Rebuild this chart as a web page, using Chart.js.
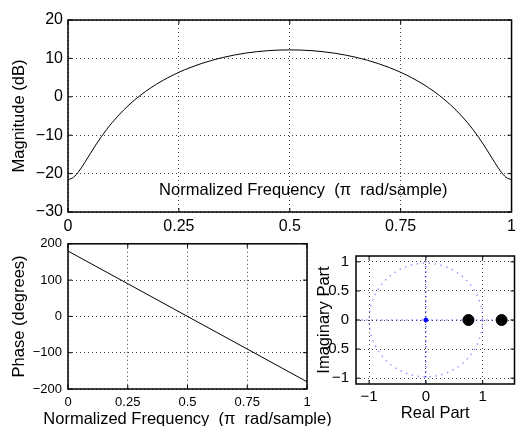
<!DOCTYPE html>
<html lang="en">
<head>
<meta charset="UTF-8">
<title>Filter response</title>
<script src="https://cdn.jsdelivr.net/npm/chart.js@4.4.0/dist/chart.umd.min.js"></script>
<style>
    body { margin: 0; background: #fff; }
    .fig { position: relative; width: 521px; height: 426px; overflow: hidden; }
    .fig canvas { position: absolute; }
</style>
</head>
<body>
<div class="fig">
    <canvas id="magChart" width="521" height="240" style="left:0;top:0"></canvas>
    <canvas id="phaseChart" width="340" height="196" style="left:0;top:230px"></canvas>
    <canvas id="pzChart" width="221" height="186" style="left:300px;top:240px"></canvas>
</div>
<script>
    // magnitude response
    const freq = [0, 0.0125, 0.025, 0.0375, 0.05, 0.0625, 0.075, 0.0875, 0.1, 0.125, 0.15, 0.175, 0.2, 0.225, 0.25,
        0.275, 0.3, 0.325, 0.35, 0.375, 0.4, 0.425, 0.45, 0.475, 0.5,
        0.525, 0.55, 0.575, 0.6, 0.625, 0.65, 0.675, 0.7, 0.725, 0.75, 0.775, 0.8, 0.825, 0.85, 0.875,
        0.9, 0.9125, 0.925, 0.9375, 0.95, 0.9625, 0.975, 0.9875, 1];
    const magDb = [-21.58, -20.96, -19.34, -17.17, -14.84, -12.56, -10.42, -8.45, -6.65, -3.49, -0.84, 1.40, 3.32, 4.96, 6.38,
        7.59, 8.63, 9.52, 10.26, 10.88, 11.37, 11.74, 12.01, 12.17, 12.22,
        12.17, 12.01, 11.74, 11.37, 10.88, 10.26, 9.52, 8.63, 7.59, 6.38, 4.96, 3.32, 1.40, -0.84, -3.49,
        -6.65, -8.45, -10.42, -12.56, -14.84, -17.17, -19.34, -20.96, -21.58];

    // phase response
    const phaseFreq = [0, 0.25, 0.5, 0.75, 1];
    const phaseDeg = [180, 90, 0, -90, -180];

    // zeros and poles
    const zeroRe = [0.75, 1.333];
    const zeroIm = [0, 0];
    const poleRe = [0];
    const poleIm = [0];

    // tick labels
    const freqTicks = [0, 0.25, 0.5, 0.75, 1];
    const magTicks = [-30, -20, -10, 0, 10, 20];
    const phaseTicks = [-200, -100, 0, 100, 200];
    const reTicks = [-1, 0, 1];
    const imTicks = [-1, -0.5, 0, 0.5, 1];

    const xLabel = 'Normalized Frequency  (\u03c0  rad/sample)';

    Chart.defaults.font.family = '"Liberation Sans", Arial, Helvetica, sans-serif';
    Chart.defaults.color = '#000';
    Chart.defaults.animation = false;

    const labelFont = { size: 16.5 };
    const gridOpts = { color: '#444', lineWidth: 1, drawTicks: false };
    const borderOpts = { display: false, dash: [1, 3] };

    function fmt(v) {
        return String(v).replace('-', '\u2212');
    }

    function fixTicks(values) {
        return function (scale) {
            scale.ticks = values.map(v => ({ value: v }));
        };
    }

    // box round the axes with small inward tick marks
    const boxPlugin = {
        id: 'box',
        afterDraw(chart) {
            const { ctx, chartArea: a, scales } = chart;
            ctx.save();
            ctx.setLineDash([]);
            ctx.strokeStyle = '#000';
            ctx.lineWidth = 1;
            ctx.beginPath();
            scales.x.ticks.forEach(t => {
                const px = scales.x.getPixelForValue(t.value);
                ctx.moveTo(px, a.bottom); ctx.lineTo(px, a.bottom - 4);
                ctx.moveTo(px, a.top); ctx.lineTo(px, a.top + 4);
            });
            scales.y.ticks.forEach(t => {
                const py = scales.y.getPixelForValue(t.value);
                ctx.moveTo(a.left, py); ctx.lineTo(a.left + 4, py);
                ctx.moveTo(a.right, py); ctx.lineTo(a.right - 4, py);
            });
            ctx.stroke();
            ctx.lineWidth = 1.5;
            ctx.strokeRect(a.left, a.top, a.right - a.left, a.bottom - a.top);
            ctx.restore();
        }
    };

    // frequency axis label, placed like the original (not limited to the axes width)
    const freqLabel = {
        id: 'freqLabel',
        afterDraw(chart, args, opts) {
            const { ctx, chartArea: a } = chart;
            ctx.save();
            ctx.font = '16.5px "Liberation Sans", Arial, sans-serif';
            ctx.fillStyle = '#000';
            ctx.textAlign = 'center';
            ctx.textBaseline = 'alphabetic';
            ctx.fillText(xLabel, (a.left + a.right) / 2 + opts.dx, a.bottom + opts.dy);
            ctx.restore();
        }
    };

    // unit circle and blue axis lines for the z-plane
    const zPlane = {
        id: 'zPlane',
        beforeDatasetsDraw(chart) {
            const { ctx, chartArea: a, scales } = chart;
            const cx = scales.x.getPixelForValue(0);
            const cy = scales.y.getPixelForValue(0);
            const r = scales.x.getPixelForValue(1) - cx;
            ctx.save();
            ctx.beginPath();
            ctx.rect(a.left, a.top, a.right - a.left, a.bottom - a.top);
            ctx.clip();
            ctx.lineWidth = 1.5;
            ctx.strokeStyle = 'rgba(90, 90, 255, 0.6)';
            ctx.setLineDash([1.5, 4.5]);
            ctx.beginPath();
            ctx.arc(cx, cy, r, 0, Math.PI * 2);
            ctx.stroke();
            ctx.lineWidth = 1.2;
            ctx.strokeStyle = 'rgba(40, 40, 255, 0.8)';
            ctx.setLineDash([1.5, 3.5]);
            ctx.beginPath();
            ctx.moveTo(a.left, cy); ctx.lineTo(a.right, cy);
            ctx.moveTo(cx, a.top); ctx.lineTo(cx, a.bottom);
            ctx.stroke();
            ctx.restore();
        }
    };

    new Chart(document.getElementById('magChart'), {
        type: 'line',
        data: {
            datasets: [{
                data: freq.map((f, i) => ({ x: f, y: magDb[i] })),
                borderColor: '#000',
                borderWidth: 1,
                pointRadius: 0,
                cubicInterpolationMode: 'monotone'
            }]
        },
        options: {
            responsive: false,
            layout: { padding: { top: 20, right: 4, left: 0, bottom: 0 } },
            plugins: {
                legend: { display: false }, tooltip: { enabled: false },
                freqLabel: { dx: 13.5, dy: -17 }
            },
            scales: {
                x: {
                    type: 'linear', min: 0, max: 1,
                    afterBuildTicks: fixTicks(freqTicks),
                    afterFit: s => { s.height = 28; },
                    ticks: { font: { size: 16 }, padding: 5, maxRotation: 0, callback: fmt },
                    grid: gridOpts, border: borderOpts
                },
                y: {
                    min: -30, max: 20,
                    afterBuildTicks: fixTicks(magTicks),
                    afterFit: s => { s.width = 68; },
                    ticks: { font: { size: 16 }, padding: 5, callback: fmt },
                    grid: gridOpts, border: borderOpts,
                    title: { display: true, text: 'Magnitude (dB)', font: labelFont, padding: { top: 10, bottom: 0 } }
                }
            }
        },
        plugins: [boxPlugin, freqLabel]
    });

    new Chart(document.getElementById('phaseChart'), {
        type: 'line',
        data: {
            datasets: [{
                data: phaseFreq.map((f, i) => ({ x: f, y: phaseDeg[i] })),
                borderColor: '#000',
                borderWidth: 1,
                pointRadius: 0
            }]
        },
        options: {
            responsive: false,
            layout: { padding: { top: 13, right: 33, left: 0, bottom: 0 } },
            plugins: {
                legend: { display: false }, tooltip: { enabled: false },
                freqLabel: { dx: 0, dy: 35 }
            },
            scales: {
                x: {
                    type: 'linear', min: 0, max: 1,
                    afterBuildTicks: fixTicks(freqTicks),
                    afterFit: s => { s.height = 37; },
                    ticks: { font: { size: 13 }, padding: 6, maxRotation: 0, callback: fmt },
                    grid: gridOpts, border: borderOpts
                },
                y: {
                    min: -200, max: 200,
                    afterBuildTicks: fixTicks(phaseTicks),
                    afterFit: s => { s.width = 68; },
                    ticks: { font: { size: 13 }, padding: 6, callback: fmt },
                    grid: gridOpts, border: borderOpts,
                    title: { display: true, text: 'Phase (degrees)', font: labelFont, padding: { top: 10, bottom: 0 } }
                }
            }
        },
        plugins: [boxPlugin, freqLabel]
    });

    new Chart(document.getElementById('pzChart'), {
        type: 'scatter',
        data: {
            datasets: [{
                data: zeroRe.map((re, i) => ({ x: re, y: zeroIm[i] })),
                backgroundColor: '#000',
                borderColor: '#000',
                pointRadius: 5.5
            }, {
                data: poleRe.map((re, i) => ({ x: re, y: poleIm[i] })),
                backgroundColor: '#0000ff',
                borderColor: '#0000ff',
                pointRadius: 2
            }]
        },
        options: {
            responsive: false,
            layout: { padding: { top: 15, right: 1.5, left: 0, bottom: 0 } },
            plugins: { legend: { display: false }, tooltip: { enabled: false } },
            scales: {
                x: {
                    type: 'linear', min: -1.23, max: 1.56,
                    afterBuildTicks: fixTicks(reTicks),
                    afterFit: s => { s.height = 42; },
                    ticks: { font: { size: 15 }, padding: 4, maxRotation: 0, callback: fmt },
                    grid: gridOpts, border: borderOpts,
                    title: { display: true, text: 'Real Part', font: labelFont, padding: { top: 0, bottom: 3 } }
                },
                y: {
                    min: -1.1, max: 1.1,
                    afterBuildTicks: fixTicks(imTicks),
                    afterFit: s => { s.width = 56; },
                    ticks: { font: { size: 15 }, padding: 7, callback: fmt },
                    grid: gridOpts, border: borderOpts,
                    title: { display: true, text: 'Imaginary Part', font: labelFont, padding: { top: 15, bottom: 0 } }
                }
            }
        },
        plugins: [zPlane, boxPlugin]
    });
</script>
</body>
</html>
